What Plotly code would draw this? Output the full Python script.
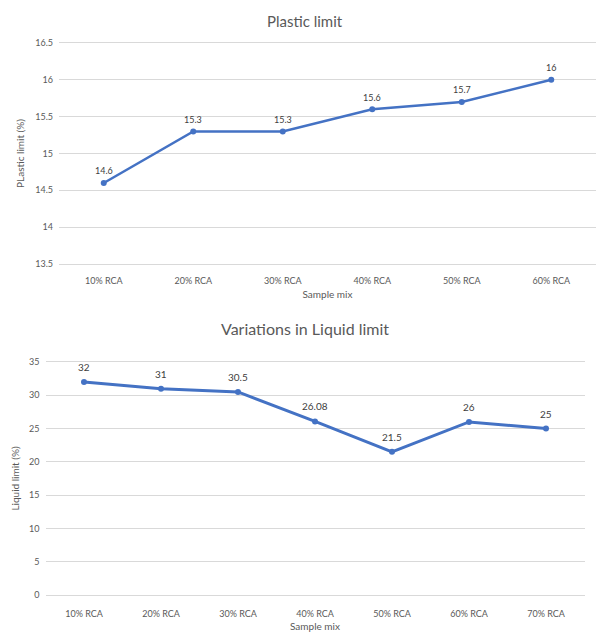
import plotly.graph_objects as go

# Plastic limit results
pl_mix = ["10% RCA", "20% RCA", "30% RCA", "40% RCA", "50% RCA", "60% RCA"]
pl_values = [14.6, 15.3, 15.3, 15.6, 15.7, 16]
pl_labels = ["14.6", "15.3", "15.3", "15.6", "15.7", "16"]

# Liquid limit results
ll_mix = ["10% RCA", "20% RCA", "30% RCA", "40% RCA", "50% RCA", "60% RCA", "70% RCA"]
ll_values = [32, 31, 30.5, 26.08, 21.5, 26, 25]
ll_labels = ["32", "31", "30.5", "26.08", "21.5", "26", "25"]

W, H = 600, 632
FONT = "Lato, 'Open Sans', sans-serif"
LINE = "#4472c4"
GRID = "#d9d9d9"
TXT = "#595959"


def px_x(x):
    return x / W


def px_y(y):
    return 1 - y / H


fig = go.Figure()

fig.add_trace(go.Scatter(
    x=pl_mix, y=pl_values, mode="lines+markers",
    line=dict(color=LINE, width=2.5), marker=dict(color=LINE, size=6),
    xaxis="x", yaxis="y", showlegend=False, cliponaxis=False,
))

fig.add_trace(go.Scatter(
    x=ll_mix, y=ll_values, mode="lines+markers",
    line=dict(color=LINE, width=3), marker=dict(color=LINE, size=6),
    xaxis="x2", yaxis="y2", showlegend=False, cliponaxis=False,
))

annotations = [
    dict(text="Plastic limit", x=px_x(305), y=px_y(21), xref="paper", yref="paper",
         yanchor="middle", showarrow=False, font=dict(size=15, color=TXT, family=FONT)),
    dict(text="Variations in Liquid limit", x=px_x(305), y=px_y(328), xref="paper", yref="paper",
         yanchor="middle", showarrow=False, font=dict(size=16, color=TXT, family=FONT)),
]

# value labels above each point
for cat, val, lab in zip(pl_mix, pl_values, pl_labels):
    annotations.append(dict(text=lab, x=cat, y=val, xref="x", yref="y", showarrow=False,
                            yshift=12, font=dict(size=9, color="#404040", family=FONT)))
for cat, val, lab in zip(ll_mix, ll_values, ll_labels):
    annotations.append(dict(text=lab, x=cat, y=val, xref="x2", yref="y2", showarrow=False,
                            yshift=15, font=dict(size=10, color="#404040", family=FONT)))

axis_common = dict(zeroline=False, ticks="", automargin=False,
                   tickfont=dict(size=9, color=TXT, family=FONT))
# horizontal frame lines at range ends act as the outer gridlines
x_common = dict(showline=True, mirror=True, linecolor=GRID, linewidth=1, showgrid=False,
                type="category", ticklabelstandoff=8, **axis_common)
y_common = dict(showline=False, showgrid=True, gridcolor=GRID, gridwidth=1,
                ticklabelstandoff=5, **axis_common)

fig.update_layout(
    width=W, height=H,
    margin=dict(l=0, r=0, t=0, b=0),
    paper_bgcolor="white", plot_bgcolor="white",
    font=dict(family=FONT, color=TXT),
    xaxis=dict(domain=[px_x(59), px_x(596)], anchor="y", range=[-0.5, 5.5], **x_common,
               title=dict(text="Sample mix", font=dict(size=10, color=TXT, family=FONT), standoff=6)),
    yaxis=dict(domain=[px_y(264), px_y(43)], anchor="x", range=[13.5, 16.5], dtick=0.5, **y_common,
               title=dict(text="PLastic limit (%)", font=dict(size=10, color=TXT, family=FONT), standoff=8)),
    xaxis2=dict(domain=[px_x(45.5), px_x(584.5)], anchor="y2", range=[-0.5, 6.5], **x_common,
                title=dict(text="Sample mix", font=dict(size=10, color=TXT, family=FONT), standoff=6)),
    yaxis2=dict(domain=[px_y(595), px_y(362)], anchor="x2", range=[0, 35], dtick=5, **y_common,
                title=dict(text="Liquid limit (%)", font=dict(size=10, color=TXT, family=FONT), standoff=7)),
    annotations=annotations,
)

fig.update_xaxes(ticklabelstandoff=10, selector=dict(anchor="y2"))

fig.write_html("out.html")
